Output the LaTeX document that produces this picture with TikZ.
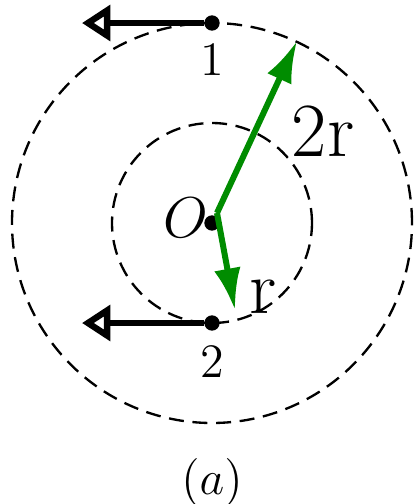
\documentclass[tikz,border=0pt]{standalone}
\usepackage{fontspec}
\usetikzlibrary{arrows.meta,positioning}
\definecolor{cGreen}{HTML}{008C00}

\begin{document}
\begin{tikzpicture}[
    x=0.3pt, y=0.3pt,
    orbit/.style={dash pattern=on 4.5pt off 2.6pt, line width=0.7pt},
    pt/.style={circle, fill=black, inner sep=0pt, minimum size=4.6pt},
    vel/.style={-{Triangle[open, length=8.5pt, width=10.5pt]}, line width=1.9pt},
    rad/.style={-{Latex[length=12.5pt, width=8pt]}, line width=1.8pt, cGreen},
    lab/.style={font=\Large},
    big/.style={font=\fontsize{23}{28}\selectfont},
  ]
  \useasboundingbox (-212,-281) rectangle (207,223);
  % --- orbits ---
  \draw[orbit] (0,0) circle[radius=100];
  \draw[orbit] (0,0) circle[radius=200];

  % --- centre and the two points ---
  \node[pt] (O) at (0,0) {};
  \node[pt] (p1) at (0,200) {};
  \node[pt] (p2) at (0,-100) {};
  \node[font=\LARGE] (lO) at (-26,5) {$O$};
  \node[lab] (l1) at (0,163) {1};
  \node[lab] (l2) at (0,-139) {2};

  % --- velocities ---
  \coordinate (v1) at (-130,200);
  \coordinate (v2) at (-130,-100);
  \draw[vel] (p1) -- (v1);
  \draw[vel] (p2) -- (v2);

  % --- radii ---
  \coordinate (s) at (5,10);
  \coordinate (t1) at (85,182);
  \coordinate (t2) at (23,-87);
  \draw[rad] (s) -- (t1);
  \draw[rad] (s) -- (t2);
  \node[big] (l2r) at (111,92) {2r};
  \node[big] (lr) at (51,-74) {r};

  \node[font=\Large] (cap) at (0,-259) {$(a)$};
\end{tikzpicture}
\end{document}
